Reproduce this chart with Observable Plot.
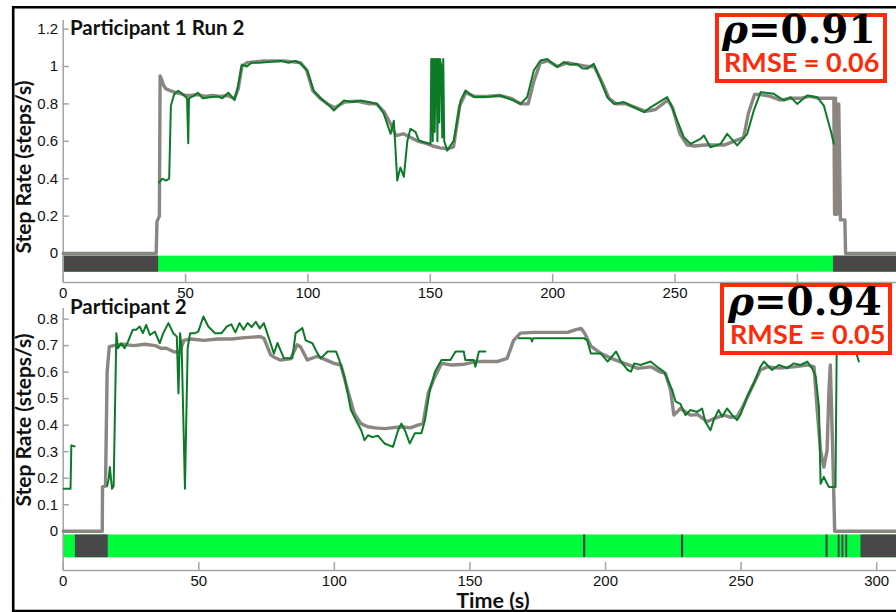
<!DOCTYPE html>
<html>
<head>
<meta charset="utf-8">
<script src="https://cdn.jsdelivr.net/npm/d3@7"></script>
<script src="https://cdn.jsdelivr.net/npm/@observablehq/plot@0.6"></script>
<style>
  html, body { margin: 0; padding: 0; background: #fff; }
  #wrap { position: relative; width: 896px; height: 612px; overflow: hidden; background: #fff; }
  #wrap > svg.panel { position: absolute; left: 0; }
  #overlay { position: absolute; left: 0; top: 0; pointer-events: none; }
</style>
</head>
<body>
<div id="wrap"></div>
<script>
// ---------------- data ----------------
const xTicks = [0, 50, 100, 150, 200, 250, 300];
const p1XTickLabels = [0, 50, 100, 150, 200, 250];   // "300" is hidden behind the lower stat box
const p2XTickLabels = [0, 50, 100, 150, 200, 250, 300];
const p1YTicks = [0, 0.2, 0.4, 0.6, 0.8, 1, 1.2];
const p2YTicks = [0, 0.1, 0.2, 0.3, 0.4, 0.5, 0.6, 0.7, 0.8];

const p1Title = "Participant 1 Run 2";
const p2Title = "Participant 2";
const p1Rho = "0.91", p1Rmse = "0.06";
const p2Rho = "0.94", p2Rmse = "0.05";

// Participant 1 Run 2 — reference (gray)
const p1RefTime = [
0, 38, 38.3, 39.3, 39.6, 40.2, 41, 42, 44, 46,
48, 50, 52, 55, 58, 61, 64, 67, 70, 71.5,
73, 75, 78, 82, 86, 90, 94, 97, 99.5, 102,
105, 108, 111, 115, 120, 125, 128, 131, 133.5, 136,
139, 142, 145, 148, 151, 154, 157, 159.5, 162, 164.5,
168, 173, 178, 183, 187, 190, 192.5, 195, 198, 202,
206, 210, 214, 217, 220, 223, 226, 230, 234, 238,
242, 247, 249, 252, 255, 258, 262, 266, 270, 274,
278, 280, 282.5, 285, 289, 293, 297, 301, 305, 309,
312, 314.9, 315.2, 315.6, 316.2, 316.9, 317.6, 319.4, 319.7, 340.5];
const p1RefRate = [
0, 0, 0.17, 0.2, 0.95, 0.93, 0.9, 0.88, 0.87, 0.86,
0.855, 0.845, 0.845, 0.85, 0.84, 0.845, 0.84, 0.845, 0.83, 0.88,
1.0, 1.02, 1.025, 1.03, 1.03, 1.03, 1.025, 1.02, 0.98, 0.87,
0.83, 0.8, 0.78, 0.81, 0.815, 0.8, 0.8, 0.76, 0.7, 0.63,
0.64, 0.62, 0.6, 0.59, 0.575, 0.565, 0.56, 0.57, 0.79, 0.86,
0.84, 0.84, 0.845, 0.83, 0.8, 0.8, 0.93, 1.02, 1.03, 1.0,
1.02, 1.01, 1.0, 1.0, 0.92, 0.83, 0.8, 0.8, 0.78, 0.76,
0.77, 0.82, 0.78, 0.64, 0.58, 0.575, 0.58, 0.58, 0.58, 0.6,
0.62, 0.75, 0.85, 0.85, 0.84, 0.82, 0.83, 0.83, 0.84, 0.83,
0.83, 0.83, 0.21, 0.83, 0.21, 0.8, 0.18, 0.18, 0, 0];

// Participant 1 Run 2 — estimate (green)
const p1EstTime = [
39.1, 40.5, 42, 43.3, 44, 45.3, 47, 49, 50.6, 51.1,
51.4, 53, 55, 57, 60, 63, 65, 67.5, 70, 71.5,
73, 75, 77, 80, 85, 89, 92, 95, 97, 99.7,
102.4, 105.2, 108, 110.6, 114.7, 118, 121.5, 125, 128.3, 131,
133.8, 135.1, 135.6, 136.5, 137.2, 137.8, 139.2, 140.6, 141.9, 144,
145.3, 147.4, 150.1, 150.4, 150.8, 151.0, 151.4, 151.8, 152.2, 152.6,
152.9, 153.3, 153.7, 154.0, 154.5, 154.9, 155.3, 155.7, 156.9, 159.6,
162.4, 164.4, 167.8, 173.2, 178.7, 184.1, 186.9, 189.6, 192.3, 195,
197.8, 201.8, 204.6, 207, 210, 212, 214.1, 216.8, 219.6, 222.3,
225, 229.1, 233.2, 237.3, 240, 246.8, 248.2, 253.6, 256.4, 260.4,
261.8, 264.5, 268.6, 271.3, 275.4, 279.5, 282.2, 285, 290.4, 294.5,
297.2, 299.9, 304, 308.1, 310.8, 313.6, 314.9];
const p1EstRate = [
0.38, 0.4, 0.39, 0.4, 0.79, 0.85, 0.87, 0.85, 0.83, 0.59,
0.83, 0.84, 0.86, 0.83, 0.835, 0.84, 0.83, 0.86, 0.82, 0.9,
1.01, 1.0, 1.02, 1.02, 1.025, 1.03, 1.02, 1.03, 1.015, 0.98,
0.87, 0.83, 0.8, 0.765, 0.818, 0.81, 0.818, 0.81, 0.8, 0.747,
0.64, 0.71, 0.6, 0.39, 0.43, 0.46, 0.41, 0.6, 0.667, 0.649,
0.604, 0.595, 0.586, 1.04, 1.04, 0.6, 1.04, 0.65, 1.04, 1.04,
0.6, 1.04, 0.7, 1.04, 1.0, 0.62, 1.04, 0.6, 0.55, 0.604,
0.818, 0.872, 0.837, 0.837, 0.845, 0.818, 0.8, 0.837, 0.979, 1.032,
1.04, 0.997, 1.024, 1.01, 1.014, 0.99, 0.988, 1.014, 0.925, 0.836,
0.8, 0.81, 0.782, 0.756, 0.782, 0.836, 0.8, 0.622, 0.586, 0.613,
0.631, 0.568, 0.586, 0.64, 0.578, 0.64, 0.765, 0.863, 0.854, 0.818,
0.836, 0.8, 0.845, 0.836, 0.791, 0.658, 0.587];

// Participant 1 — walking state band (not walking intervals)
const p1BandEnd = 340.5;
const p1OffStart = [0, 314.8];
const p1OffEnd = [39, 340.5];

// Participant 2 — reference (gray)
const p2RefTime = [
0, 14.4, 14.5, 15.6, 16.2, 17.0, 18.5, 22, 26, 30,
34, 36, 38, 40.8, 42.9, 44.5, 47, 52, 57, 62,
67, 72.7, 74, 76.5, 78, 80, 83.8, 86.3, 87.5, 90,
93.8, 96, 99.9, 102.4, 104.9, 107.3, 109.8, 112.3, 115, 118.5,
121, 124.7, 128, 130.8, 132.7, 134.6, 136.5, 139.5, 143.2, 148,
152, 156, 160, 163.7, 166.1, 168.6, 173.6, 180, 186, 189.1,
191, 192.3, 194.7, 198.4, 202.1, 207, 211.9, 216.8, 220.3, 222.1,
224, 225.2, 227.6, 231.3, 234, 237.4, 240, 243.6, 246, 248.5,
250.9, 254.7, 257.1, 259.6, 264.5, 269.4, 274.4, 276.9, 278.1, 279.3,
280.5, 281.7, 282.4, 282.9, 283.6, 284.2, 284.5, 307.3];
const p2RefRate = [
0, 0, 0.167, 0.17, 0.6, 0.696, 0.70, 0.705, 0.70, 0.705,
0.70, 0.69, 0.69, 0.677, 0.675, 0.72, 0.725, 0.72, 0.725, 0.725,
0.73, 0.734, 0.728, 0.665, 0.655, 0.646, 0.65, 0.703, 0.696, 0.646,
0.66, 0.65, 0.633, 0.627, 0.532, 0.445, 0.406, 0.394, 0.39, 0.387,
0.39, 0.394, 0.39, 0.40, 0.406, 0.52, 0.57, 0.633, 0.627, 0.63,
0.64, 0.64, 0.64, 0.652, 0.72, 0.747, 0.75, 0.75, 0.75, 0.76,
0.765, 0.747, 0.697, 0.67, 0.652, 0.633, 0.614, 0.62, 0.60, 0.596,
0.532, 0.438, 0.463, 0.438, 0.44, 0.413, 0.425, 0.438, 0.43, 0.432,
0.475, 0.558, 0.608, 0.62, 0.615, 0.62, 0.627, 0.62, 0.45, 0.305,
0.242, 0.305, 0.532, 0.627, 0.37, 0.129, 0, 0];

// Participant 2 — estimate (green), null = gap
const p2EstTime = [
0.2, 2.7, 3.0, 4.2, 4.3, 16.2, 16.8, 17.2, 17.6, 18.0,
18.6, 19.6, 20.2, 21.4, 22.6, 23.9, 25.7, 26.9, 28.2, 29.4,
30.6, 32, 33.8, 35.6, 36.9, 38.8, 40.6, 41.9, 42.5, 43.1,
43.7, 44.9, 45.9, 46.8, 48.6, 49.8, 51.7, 53.5, 56, 58.4,
60.3, 62, 63.5, 65, 66.5, 68, 69.5, 71, 72.5, 74,
76.5, 77.7, 79, 81.4, 84.5, 85.7, 88.2, 89.4, 91.9, 93.8,
95, 97.5, 100.6, 101.8, 103.7, 106.1, 108.6, 109.9, 111.1, 112.4,
114, 116.1, 118.5, 121.6, 123.5, 124.7, 126, 127.8, 129.7, 132.1,
133.4, 135.2, 137.1, 139.5, 142.8, 144.7, 147.7, 148.3, 151.4, 152,
153.3, 155.7, 155.8, 168.0, 172.5, 172.9, 173.3, 192, 193.2, 194.6,
198.3, 200.8, 203.9, 205.7, 208.2, 209.4, 210.6, 212.9, 216.6, 219,
221.5, 222.7, 224.6, 225.8, 227.6, 229.5, 231.3, 233.8, 235.6, 236.8,
238.7, 239.9, 241.7, 243, 244.8, 246.7, 248.5, 249.8, 252.2, 254.7,
257.1, 258.4, 261.4, 263.9, 267, 269.4, 271.9, 274.4, 276.2, 277.5,
278.7, 279.3, 280.5, 281.7, 282.4, 284.2, 284.8, 285.3, 290, 293.4];
const p2EstRate = [
0.16, 0.16, 0.324, 0.32, null, 0.17, 0.2, 0.242, 0.2, 0.16,
0.17, 0.747, 0.69, 0.709, 0.69, 0.715, 0.76, 0.76, 0.772, 0.747,
0.778, 0.74, 0.753, 0.709, 0.747, 0.785, 0.747, 0.734, 0.52, 0.747,
0.69, 0.16, 0.69, 0.747, 0.747, 0.753, 0.81, 0.772, 0.747, 0.747,
0.772, 0.78, 0.75, 0.785, 0.76, 0.785, 0.77, 0.79, 0.765, 0.785,
0.708, 0.67, 0.71, 0.652, 0.652, 0.747, 0.766, 0.72, 0.709, 0.67,
0.652, 0.678, 0.678, 0.646, 0.583, 0.457, 0.406, 0.381, 0.343, 0.362,
0.355, 0.36, 0.331, 0.318, 0.381, 0.406, 0.381, 0.331, 0.37, 0.37,
0.419, 0.532, 0.602, 0.646, 0.646, 0.678, 0.678, 0.646, 0.646, 0.62,
0.678, 0.678, null, 0.728, 0.728, 0.716, 0.728, 0.728, 0.72, 0.67,
0.67, 0.64, 0.678, 0.64, 0.608, 0.602, 0.633, 0.627, 0.64, 0.62,
0.602, 0.577, 0.532, 0.49, 0.48, 0.438, 0.457, 0.45, 0.463, 0.413,
0.381, 0.42, 0.457, 0.432, 0.463, 0.438, 0.419, 0.44, 0.507, 0.558,
0.62, 0.64, 0.608, 0.627, 0.615, 0.633, 0.627, 0.64, 0.614, 0.583,
0.469, 0.179, 0.205, 0.179, 0.167, 0.167, 0.167, 0.75, 0.76, 0.64];

// Participant 2 — walking state band (not walking intervals)
const p2BandEnd = 307.3;
const p2OffStart = [4.5, 191.9, 228.0, 281.3, 285.8, 287.2, 288.6, 294.2];
const p2OffEnd = [16.6, 192.7, 228.8, 282.1, 286.5, 287.9, 289.3, 307.3];

// ---------------- styling ----------------
const GRAY = "#8b8682";
const GREEN = "#0c7a27";
const BAND_ON = "#00fb3d";
const BAND_OFF = "#484848";
const AXIS = "#a4a4a4";
const RED = "#ff2a0a";

const zip = (t, v) => t.map((x, i) => ({t: x, v: v[i]}));
const intervals = (s, e) => s.map((x, i) => ({x1: x, x2: e[i]}));

function panel({xMax, yDomain, yTicks, xLabels, ref, est, bandEnd, off, height, marginTop, marginBottom}) {
  const W = 896, ML = 62.7;
  const plotH = height - marginTop - marginBottom;
  const plotW = W - ML;
  const bandTop = -0.014, bandBottom = -0.10;
  return Plot.plot({
    width: W, height, marginLeft: ML, marginRight: 0, marginTop, marginBottom,
    style: {background: "transparent", overflow: "visible", fontFamily: "'Liberation Sans', Arial, sans-serif", fontSize: "15px", color: "#111"},
    x: {domain: [0, xMax]},
    y: {domain: yDomain},
    marks: [
      Plot.rect([{x1: 0, x2: bandEnd}], {x1: "x1", x2: "x2", y1: bandTop, y2: bandBottom, fill: BAND_ON}),
      Plot.rect(off, {x1: "x1", x2: "x2", y1: bandTop, y2: bandBottom, fill: BAND_OFF}),
      Plot.ruleX([0], {stroke: AXIS, strokeWidth: 1.5}),
      Plot.ruleY([yDomain[0]], {stroke: AXIS, strokeWidth: 1.5}),
      Plot.tickX(xTicks, {x: d => d, stroke: AXIS, strokeWidth: 1.5, insetTop: plotH - 8}),
      Plot.tickY(yTicks, {y: d => d, stroke: AXIS, strokeWidth: 1.5, insetRight: plotW - 6}),
      Plot.line(ref, {x: "t", y: "v", stroke: GRAY, strokeWidth: 3.4, strokeLinejoin: "round"}),
      Plot.line(est, {x: "t", y: "v", stroke: GREEN, strokeWidth: 2, strokeLinejoin: "round"}),
      Plot.axisX(xLabels, {tickSize: 0, tickPadding: 5, label: null, fontSize: 15}),
      Plot.axisY(yTicks, {tickSize: 0, tickPadding: 5, label: null, fontSize: 15, tickFormat: d => String(d)})
    ]
  });
}

const wrap = document.getElementById("wrap");

const top1 = panel({
  xMax: p1BandEnd, yDomain: [-0.155, 1.246], yTicks: p1YTicks, xLabels: p1XTickLabels,
  ref: zip(p1RefTime, p1RefRate), est: zip(p1EstTime, p1EstRate),
  bandEnd: p1BandEnd, off: intervals(p1OffStart, p1OffEnd),
  height: 305, marginTop: 20, marginBottom: 23
});
top1.classList.add("panel");
top1.style.top = "0px";
wrap.appendChild(top1);

const bot = panel({
  xMax: p2BandEnd, yDomain: [-0.148, 0.84], yTicks: p2YTicks, xLabels: p2XTickLabels,
  ref: zip(p2RefTime, p2RefRate), est: zip(p2EstTime, p2EstRate),
  bandEnd: p2BandEnd, off: intervals(p2OffStart, p2OffEnd),
  height: 316, marginTop: 12, marginBottom: 42
});
bot.classList.add("panel");
bot.style.top = "296px";
wrap.appendChild(bot);

// ---------------- annotations overlay ----------------
const NS = "http://www.w3.org/2000/svg";
const ov = document.createElementNS(NS, "svg");
ov.setAttribute("id", "overlay");
ov.setAttribute("width", 896);
ov.setAttribute("height", 612);
wrap.appendChild(ov);

function el(tag, attrs, text, parent) {
  const e = document.createElementNS(NS, tag);
  for (const k in attrs) e.setAttribute(k, attrs[k]);
  if (text != null) e.textContent = text;
  (parent || ov).appendChild(e);
  return e;
}

// outer black frame
el("line", {x1: 13.2, y1: 6, x2: 13.2, y2: 612, stroke: "#000", "stroke-width": 2.6});
el("line", {x1: 12, y1: 7.2, x2: 896, y2: 7.2, stroke: "#000", "stroke-width": 2.4});
el("line", {x1: 12, y1: 611, x2: 896, y2: 611, stroke: "#000", "stroke-width": 2.4});

const BOLD = "font-family: Lato, 'Open Sans', sans-serif; font-weight: 700;";

// y labels
el("text", {transform: "translate(31,167) rotate(-90)", "text-anchor": "middle", style: BOLD + "font-size:21px;", fill: "#111"}, "Step Rate (steps/s)");
el("text", {transform: "translate(31,420) rotate(-90)", "text-anchor": "middle", style: BOLD + "font-size:21px;", fill: "#111"}, "Step Rate (steps/s)");

// titles
el("text", {x: 70, y: 34.5, style: BOLD + "font-size:20.5px;", fill: "#111"}, p1Title);
el("text", {x: 70, y: 313.5, style: BOLD + "font-size:20.5px;", fill: "#111"}, p2Title);

// x label
el("text", {x: 493, y: 608, "text-anchor": "middle", style: BOLD + "font-size:21.5px;", fill: "#111"}, "Time (s)");

// stat boxes: one text element, two lines
function statBox(x, y, w, h, rho, rmse, rhoBase, rmseBase, tx) {
  el("rect", {x: x + 2, y: y + 2, width: w - 4, height: h - 4, fill: "#fff", stroke: RED, "stroke-width": 4});
  const t = el("text", {x: tx, y: rhoBase});
  el("tspan", {style: "font-family: 'DejaVu Serif', serif; font-weight: 700; font-style: italic; font-size: 39px;", fill: "#000"}, "ρ", t);
  el("tspan", {style: "font-family: 'DejaVu Serif', serif; font-weight: 700; font-size: 39px;", fill: "#000"}, "=" + rho, t);
  el("tspan", {x: tx + 2, y: rmseBase, style: BOLD + "font-size:27px;", fill: RED}, "RMSE = " + rmse, t);
}
statBox(715, 13, 172, 70, p1Rho, p1Rmse, 43, 72, 722);
statBox(720, 283, 172, 72, p2Rho, p2Rmse, 315, 343.5, 728);
</script>
</body>
</html>
